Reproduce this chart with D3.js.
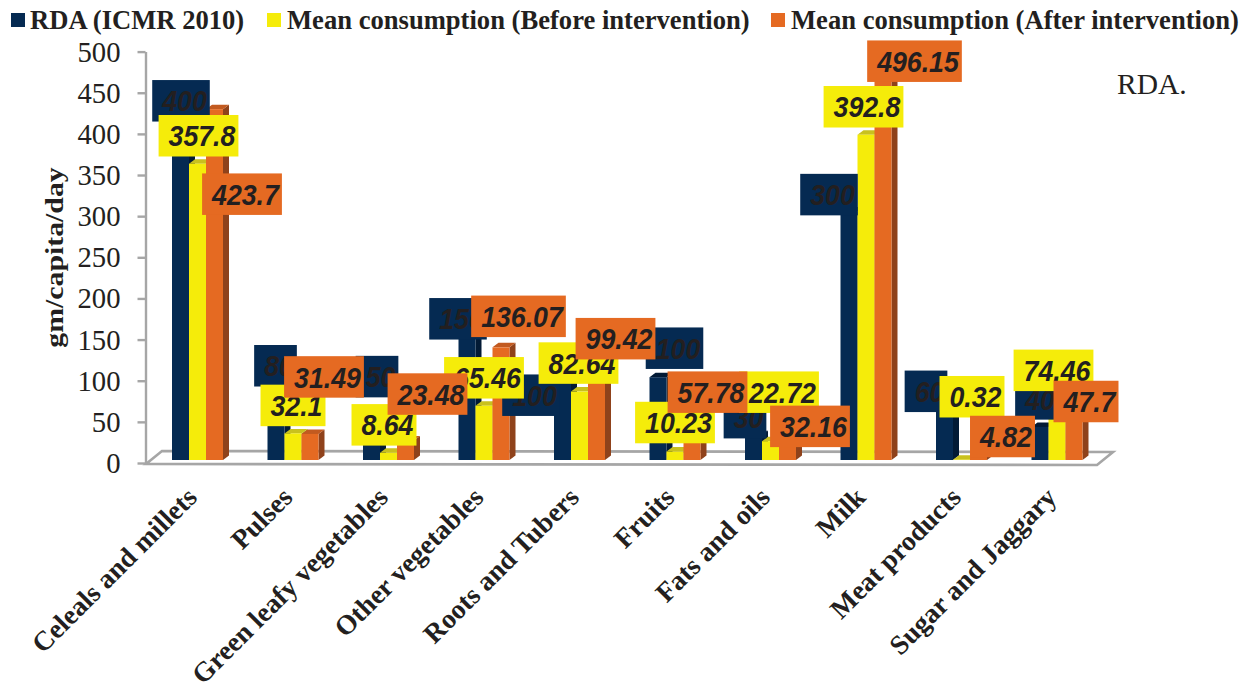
<!DOCTYPE html>
<html><head><meta charset="utf-8">
<script src="https://cdn.jsdelivr.net/npm/d3@7/dist/d3.min.js"></script>
<style>html,body{margin:0;padding:0;background:#fff;overflow:hidden}svg{display:block}</style>
</head><body><svg id="c" width="1250" height="687"></svg>
<script>
const categories=["Celeals and millets","Pulses","Green leafy vegetables","Other vegetables","Roots and Tubers","Fruits","Fats and oils","Milk","Meat products","Sugar and Jaggary"];
const seriesNames=["RDA (ICMR 2010)","Mean consumption (Before intervention)","Mean consumption (After intervention)"];
const rda=[400,80,50,150,100,100,30,300,60,40];
const before=[357.8,32.1,8.64,65.46,82.64,10.23,22.72,392.8,0.32,74.46];
const after=[423.7,31.49,23.48,136.07,99.42,57.78,32.16,496.15,4.82,47.7];
const yTicks=[0,50,100,150,200,250,300,350,400,450,500];
// label displacement from each bar's top centre
const rdaLabelShift=[[.5,-28],[-.5,-28],[5.5,-42],[-9,-17],[-31.5,18],[16.5,-29],[-8.5,-17.5],[-20,-17],[-18.5,-19],[-3.5,-28]];
const beforeLabelShift=[[1,-28],[0,-28],[-4.5,-28],[0,-28],[-1,-28.5],[0,-29],[8.5,-49],[-2.5,-28],[10.5,-63],[-3.5,-28]];
const afterLabelShift=[[27.5,85],[14,-57],[22,-46.5],[17.5,-31],[19,-39],[15.5,-20],[22.5,-7],[31.5,12],[24,-19.5],[12,-19]];

const palette=[
 {front:"#052a52",side:"#021a35",top:"#021a35"},
 {front:"#f5ec0a",side:"#b5ad12",top:"#c9c11e"},
 {front:"#e56a22",side:"#8f421b",top:"#c25a20"}];
const ink="#231f20",serif="'Liberation Serif',serif",sans="'Liberation Sans',sans-serif";
const svg=d3.select("#c");
const depthX=6,depthY=4.5;

const x=d3.scaleBand().domain(categories).range([149.75,1104.75]);
const xi=d3.scaleBand().domain([0,1,2]).range([x.bandwidth()/2-25.5,x.bandwidth()/2+25.5]);
const yAxisScale=d3.scaleLinear().domain([0,500]).range([463,51.6]);
const yBar=d3.scaleLinear().domain([0,500]).range([460,46]);

// floor
svg.append("path").attr("d","M146,464L1097,465L1113,452L162,451Z")
  .attr("fill","#fff").attr("stroke","#a6a6a6").attr("stroke-width",2.6);

// y axis
const ga=svg.append("g").attr("transform","translate(145.5,0)")
  .call(d3.axisLeft(yAxisScale).tickValues(yTicks).tickSize(8).tickPadding(17).tickSizeOuter(0));
ga.selectAll("path,line").attr("stroke","#a6a6a6").attr("stroke-width",2.4);
ga.selectAll("text").attr("font-family",serif).attr("font-size",28.7).attr("fill",ink).attr("dy","0.33em");

// x labels
const gx=svg.append("g").attr("transform","translate(0,463)")
  .call(d3.axisBottom(x).tickSize(0).tickPadding(0));
gx.select("path").remove();
gx.selectAll("text").attr("font-family",serif).attr("font-weight","bold").attr("font-size",27.5).attr("fill",ink)
  .attr("text-anchor","end").attr("dy",0)
  .attr("transform","translate(1,36) rotate(-45)");

// bars
const allSeries=[rda,before,after];
const barX=(i,s)=>x(categories[i])+xi(s);
allSeries.forEach((vals,s)=>{
  const g=svg.append("g").selectAll("g").data(vals).join("g");
  const w=xi.bandwidth();
  g.append("path").attr("fill",palette[s].side)
   .attr("d",(v,i)=>{const a=barX(i,s)+w,t=yBar(v),b=yBar(0);return `M${a},${t}L${a+depthX},${t-depthY}L${a+depthX},${b-depthY}L${a},${b}Z`;});
  g.append("path").attr("fill",palette[s].top)
   .attr("d",(v,i)=>{const a=barX(i,s),t=yBar(v);return `M${a},${t}L${a+depthX},${t-depthY}L${a+w+depthX},${t-depthY}L${a+w},${t}Z`;});
  g.append("rect").attr("fill",palette[s].front)
   .attr("x",(v,i)=>barX(i,s)).attr("width",w)
   .attr("y",v=>yBar(v)).attr("height",v=>yBar(0)-yBar(v));
});

// data labels: glyphs are tall and slightly condensed, sitting right of centre in their box
const shifts=[rdaLabelShift,beforeLabelShift,afterLabelShift];
const boxH=41.5,padL=10,padR=3,squeeze=0.905;
allSeries.forEach((vals,s)=>{
  vals.forEach((v,i)=>{
    const cx=barX(i,s)+xi.bandwidth()/2+shifts[s][i][0];
    const cy=yBar(v)+shifts[s][i][1];
    const g=svg.append("g");
    const r=g.append("rect").attr("fill",palette[s].front);
    const t=g.append("text").text(v).attr("dy","0.36em")
      .attr("text-anchor","start").attr("font-family",sans).attr("font-weight","bold").attr("font-style","italic")
      .attr("font-size",29.5).attr("fill",ink);
    const tw=t.node().getComputedTextLength()*squeeze;
    const bw=tw+padL+padR;
    r.attr("x",cx-bw/2).attr("width",bw).attr("y",cy-boxH/2).attr("height",boxH);
    t.attr("transform",`translate(${cx-bw/2+padL},${cy}) scale(${squeeze},1)`);
  });
});

// y title
svg.append("text").text("gm/capita/day").attr("transform","translate(63,257.5) rotate(-90) scale(1.147,1)")
  .attr("text-anchor","middle").attr("font-family",serif).attr("font-weight","bold").attr("font-size",26).attr("fill",ink);

// legend
const legendItems=d3.scaleOrdinal().domain(seriesNames).range([11,267,771]);
seriesNames.forEach((n,s)=>{
  const lx=legendItems(n);
  svg.append("rect").attr("x",lx).attr("y",13).attr("width",14).attr("height",14).attr("fill",palette[s].front);
  svg.append("text").text(n).attr("x",lx+(s===0?19:20)).attr("y",29)
   .attr("font-family",serif).attr("font-weight","bold").attr("font-size",26.6).attr("fill",ink);
});

// note
svg.append("text").text("RDA.").attr("x",1117).attr("y",94).attr("font-family",serif).attr("font-size",29.5).attr("fill",ink);
</script></body></html>
